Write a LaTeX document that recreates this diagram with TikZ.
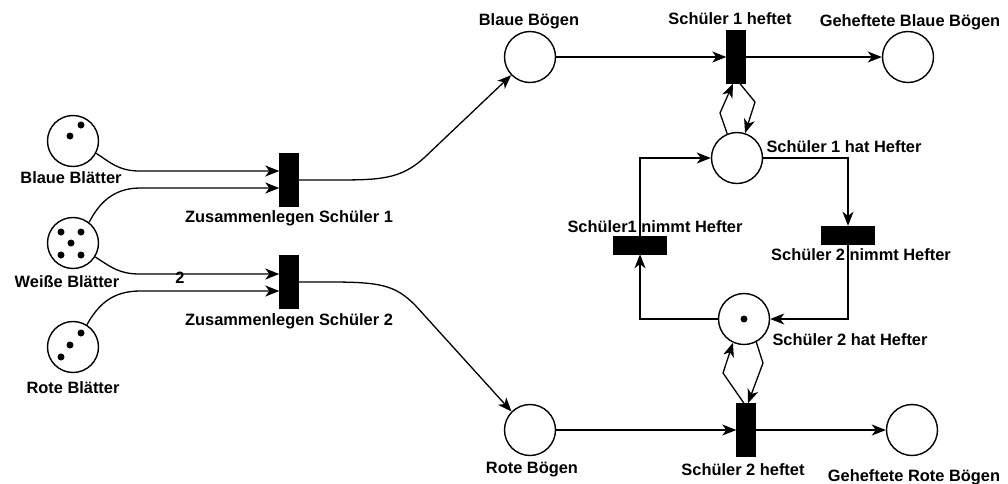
\documentclass[tikz,border=0pt]{standalone}
\usepackage{fontspec}
\setmainfont{Liberation Sans}
\usetikzlibrary{arrows.meta, calc}

\begin{document}
\begin{tikzpicture}[x=1pt, y=-1pt,
    place/.style={draw, circle, line width=1.4pt, minimum size=51pt, inner sep=0pt},
    trans/.style={draw, fill=black, inner sep=0pt},
    vtrans/.style={trans, minimum width=19pt, minimum height=53pt},
    htrans/.style={trans, minimum width=53pt, minimum height=18pt},
    lbl/.style={anchor=base, inner sep=0pt, font=\bfseries\fontsize{16.4}{18}\selectfont},
    arc/.style={line width=1.3pt, -{Stealth[length=14pt, width=11pt, inset=4pt]}}]
    \useasboundingbox (0,0) rectangle (1008,483);

    % Stellen
    \node[place] (bb) at (73,141) {};
    \node[place] (wb) at (73,243) {};
    \node[place] (rb) at (73,347) {};
    \node[place] (bg) at (530,57) {};
    \node[place] (rg) at (530,430) {};
    \node[place] (gb) at (908,57) {};
    \node[place] (gr) at (912,430) {};
    \node[place] (p1) at (737,158) {};
    \node[place] (p2) at (744,319) {};

    % Transitionen
    \node[vtrans] (z1) at (289,180) {};
    \node[vtrans] (z2) at (289,282) {};
    \node[vtrans] (h1) at (736,57) {};
    \node[vtrans] (h2) at (746,430) {};
    \node[htrans] (n1) at (640,245) {};
    \node[htrans] (n2) at (848,235) {};

    % Marken
    \foreach \dx/\dy in {8/-16, -3/-5}
        \fill[shift={(bb)}] (\dx,\dy) circle (3.5);
    \foreach \dx/\dy in {-12/-11, 8/-11, -2/0, -12/12, 8/12}
        \fill[shift={(wb)}] (\dx,\dy) circle (3.5);
    \foreach \dx/\dy in {8/-14, -3/-2, -12/10}
        \fill[shift={(rb)}] (\dx,\dy) circle (3.5);
    \fill (p2) circle (3.5);

    % Beschriftungen
    \node[lbl] (bbl) at (71,183) {Blaue Blätter};
    \node[lbl] (wbl) at (67,287) {Weiße Blätter};
    \node[lbl] (rbl) at (73,393) {Rote Blätter};
    \node[lbl] (z1l) at (289,222) {Zusammenlegen Schüler 1};
    \node[lbl] (z2l) at (289,325) {Zusammenlegen Schüler 2};
    \node[lbl] (bgl) at (529,25) {Blaue Bögen};
    \node[lbl] (rgl) at (532,473) {Rote Bögen};
    \node[lbl] (h1l) at (730,24) {Schüler 1 heftet};
    \node[lbl] (h2l) at (743,475) {Schüler 2 heftet};
    \node[lbl] (gbl) at (910,26) {Geheftete Blaue Bögen};
    \node[lbl] (grl) at (914,481) {Geheftete Rote Bögen};
    \node[lbl] (p1l) at (844,152) {Schüler 1 hat Hefter};
    \node[lbl] (p2l) at (850,345) {Schüler 2 hat Hefter};
    \node[lbl] (n1l) at (655,232) {Schüler1 nimmt Hefter};
    \node[lbl] (n2l) at (861,260) {Schüler 2 nimmt Hefter};

    % Kanten links
    \draw[arc] (bb.-28) .. controls (110,162) and (118,171) .. (140,171) -- ($(z1.west)+(0,-9)$);
    \draw[arc] (wb.52) .. controls (98,205) and (112,188) .. (140,188) -- ($(z1.west)+(0,8)$);
    \draw[arc] (wb.-32) .. controls (112,268) and (120,274) .. (140,274) -- ($(z2.west)+(0,-8)$);
    \draw[arc] (rb.58) .. controls (98,305) and (112,291) .. (140,291) -- ($(z2.west)+(0,9)$);
    \node[lbl] (w2) at (180,283) {2};
    \draw[arc] (z1) -- (330,180) .. controls (380,180) and (400,180) .. (425,157) -- (bg.-136);
    \draw[arc] (z2) -- (330,282) .. controls (380,282) and (395,285) .. (415,305) -- (rg.135);

    % Kanten rechts
    \draw[arc] (bg) -- (h1);
    \draw[arc] (h1) -- (gb);
    \draw[arc] (rg) -- (h2);
    \draw[arc] (h2) -- (gr);
    \draw[arc] (p1.112) -- (720,113) -- ($(h1.south)+(-3,0)$);
    \draw[arc] ($(h1.south)+(4,0)$) -- (755,102) -- (p1.72);
    \draw[arc] ($(h2.north)+(-2,0)$) -- (723,373) -- (p2.-115);
    \draw[arc] (p2.-62) -- (763,363) -- ($(h2.north)+(2,0)$);
    \draw[arc] (p1) -| (n2);
    \draw[arc] (n2) |- (p2);
    \draw[arc] (p2) -| (n1);
    \draw[arc] (n1) |- (p1);
\end{tikzpicture}
\end{document}
